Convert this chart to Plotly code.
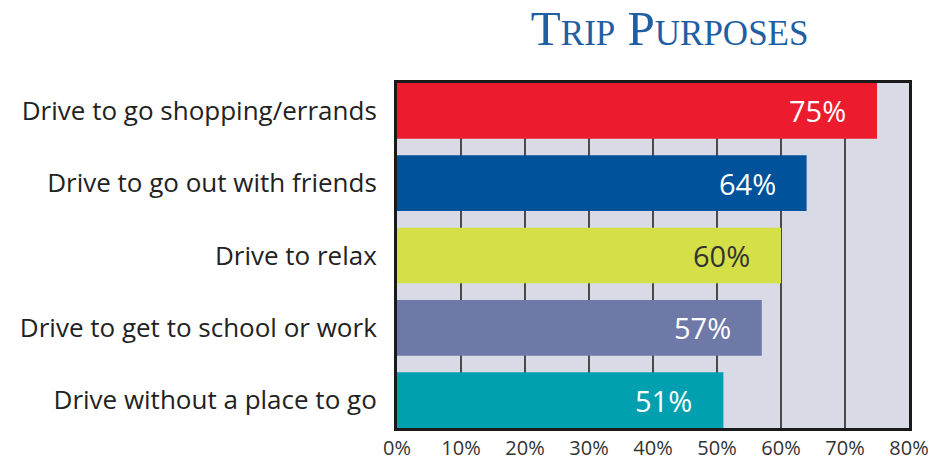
import plotly.graph_objects as go

purposes = [
    "Drive to go shopping/errands",
    "Drive to go out with friends",
    "Drive to relax",
    "Drive to get to school or work",
    "Drive without a place to go",
]
shares = [75, 64, 60, 57, 51]
bar_colors = ["#ec1c2e", "#00529b", "#d5df48", "#6e79a8", "#00a0b0"]
label_colors = ["white", "white", "#333333", "white", "white"]
x_ticks = [0, 10, 20, 30, 40, 50, 60, 70, 80]

fig = go.Figure()

fig.add_trace(go.Bar(
    x=shares, y=purposes, orientation="h",
    marker=dict(color=bar_colors, line=dict(width=0)),
    hoverinfo="skip",
))

# value labels sit well inside the bar end
for p, v, c in zip(purposes, shares, label_colors):
    fig.add_annotation(
        x=v, y=p, text=f"{v}%", showarrow=False,
        xanchor="right", xshift=-29,
        font=dict(family="Open Sans", size=29, color=c),
    )

gap = 0.23
# page body has an 8px margin: figure starts at (8, 8) and runs to the window edge
fig.update_layout(
    width=928, height=454,
    margin=dict(l=389, r=27, t=75, b=34),
    paper_bgcolor="white",
    plot_bgcolor="#d8dae6",
    bargap=gap,
    showlegend=False,
    title=dict(
        text="T<span style='font-size:35px'>RIP</span> P<span style='font-size:35px'>URPOSES</span>",
        font=dict(family="Liberation Serif", size=49, color="#1f5ea3"),
        x=0.713, xanchor="center", y=0.956, yanchor="middle",
    ),
    xaxis=dict(
        range=[0, 80], tickvals=x_ticks,
        ticktext=[f"{t}%" for t in x_ticks],
        showgrid=True, gridcolor="#4a4a4a", gridwidth=2,
        zeroline=False, automargin=False,
        showline=True, mirror=True, linecolor="#1a1a1a", linewidth=3,
        tickfont=dict(family="Open Sans", size=20, color="#333333"),
        ticks="", ticklabelstandoff=0,
    ),
    yaxis=dict(
        autorange=False, automargin=False,
        range=[len(purposes) - 0.5 - gap / 2, -0.5 + gap / 2],
        showgrid=False, zeroline=False,
        showline=True, mirror=True, linecolor="#1a1a1a", linewidth=3,
        tickfont=dict(family="Open Sans", size=26, color="#222222"),
        ticks="", ticklabelstandoff=12,
    ),
)

fig.write_html("out.html")
